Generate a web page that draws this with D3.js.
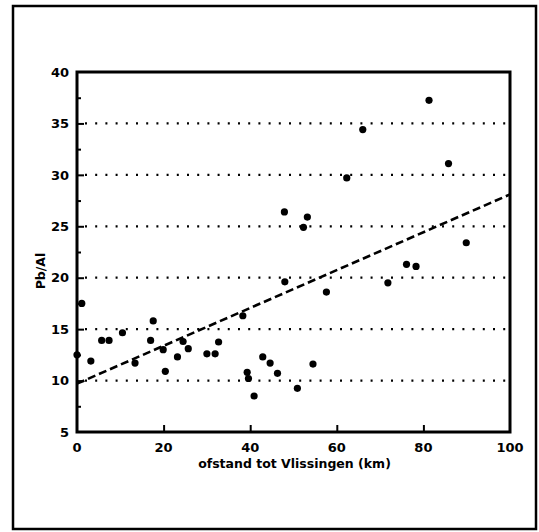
<!DOCTYPE html>
<html>
<head>
<meta charset="utf-8">
<script src="https://cdn.jsdelivr.net/npm/d3@7"></script>
<style>
  html, body { margin: 0; padding: 0; background: #fff; }
  svg { display: block; }
  text { font-family: "DejaVu Sans", sans-serif; font-weight: bold; fill: #000; }
</style>
</head>
<body>
<svg id="chart" width="539" height="532"></svg>
<script>
// Distance from Vlissingen (km) and Pb/Al ratio per sample
const distanceKm = [0, 1.1, 3.2, 5.7, 7.4, 10.5, 13.4, 17.0, 17.6, 19.9, 20.4, 23.2, 24.5, 25.7,
  30.0, 31.9, 32.7, 38.3, 39.3, 39.6, 40.9, 42.9, 44.6, 46.3, 47.9, 48.0, 50.9, 52.3, 53.2,
  54.5, 57.6, 62.3, 66.0, 71.8, 76.1, 78.3, 81.3, 85.8, 89.9];
const pbAl = [12.5, 17.5, 11.9, 13.9, 13.9, 14.65, 11.7, 13.9, 15.8, 13.0, 10.9, 12.3, 13.8, 13.1,
  12.6, 12.6, 13.75, 16.3, 10.8, 10.2, 8.5, 12.3, 11.7, 10.7, 26.4, 19.6, 9.25, 24.9, 25.9,
  11.6, 18.6, 29.7, 34.4, 19.5, 21.3, 21.1, 37.25, 31.1, 23.4];

// Fitted trend line endpoints
const trendX = [0, 100];
const trendY = [9.7, 28.1];

// Axis ticks
const xTicks = [0, 20, 40, 60, 80, 100];
const yTicks = [5, 10, 15, 20, 25, 30, 35, 40];
const yMinorTicks = [7.5, 12.5, 17.5, 22.5, 27.5, 32.5, 37.5];
const gridValues = [10, 15, 20, 25, 30, 35];

(function draw() {
  const svg = d3.select("#chart");

  // Outer frame
  svg.append("rect")
    .attr("x", 13).attr("y", 6).attr("width", 523).attr("height", 523)
    .attr("fill", "none").attr("stroke", "#000").attr("stroke-width", 2.5);

  const plotL = 77, plotR = 510, plotT = 72, plotB = 432;
  const x = d3.scaleLinear().domain([0, 100]).range([plotL, plotR]);
  const y = d3.scaleLinear().domain([5, 40]).range([plotB, plotT]);

  // Dotted horizontal grid
  svg.append("g").selectAll("line").data(gridValues).join("line")
    .attr("x1", plotL + 8).attr("x2", plotR - 2)
    .attr("y1", d => y(d)).attr("y2", d => y(d))
    .attr("stroke", "#000").attr("stroke-width", 2.2)
    .attr("stroke-dasharray", "2,8.2");

  // Inward major/minor ticks
  const yAxis = d3.axisRight(y).tickValues(yTicks.slice(1, -1)).tickSize(7).tickFormat("");
  svg.append("g").attr("transform", `translate(${plotL},0)`).call(yAxis)
    .call(g => g.select(".domain").remove())
    .selectAll("line").attr("stroke-width", 2);
  const yMinor = d3.axisRight(y).tickValues(yMinorTicks).tickSize(4).tickFormat("");
  svg.append("g").attr("transform", `translate(${plotL},0)`).call(yMinor)
    .call(g => g.select(".domain").remove())
    .selectAll("line").attr("stroke-width", 2);
  const xAxis = d3.axisTop(x).tickValues(xTicks.slice(1, -1)).tickSize(7).tickFormat("");
  svg.append("g").attr("transform", `translate(0,${plotB})`).call(xAxis)
    .call(g => g.select(".domain").remove())
    .selectAll("line").attr("stroke-width", 2);

  // Plot frame
  svg.append("rect")
    .attr("x", plotL).attr("y", plotT).attr("width", plotR - plotL).attr("height", plotB - plotT)
    .attr("fill", "none").attr("stroke", "#000").attr("stroke-width", 3);

  // Tick labels
  svg.append("g").selectAll("text").data(yTicks).join("text")
    .attr("x", plotL - 8).attr("y", d => y(d)).attr("dy", "0.36em")
    .attr("text-anchor", "end").attr("font-size", 13).text(d => d);
  svg.append("g").selectAll("text").data(xTicks).join("text")
    .attr("x", d => x(d)).attr("y", plotB + 15).attr("dy", "0.36em")
    .attr("text-anchor", "middle").attr("font-size", 13).text(d => d);

  // Axis titles
  svg.append("text")
    .attr("x", (plotL + plotR) / 2 + 1).attr("y", 463).attr("dy", "0.36em")
    .attr("text-anchor", "middle").attr("font-size", 12.5)
    .text("ofstand tot Vlissingen (km)");
  svg.append("text")
    .attr("transform", "translate(40,271) rotate(-90)")
    .attr("dy", "0.36em").attr("text-anchor", "middle").attr("font-size", 12.5)
    .text("Pb/Al");

  // Trend line
  const line = d3.line().x(d => x(d[0])).y(d => y(d[1]));
  svg.append("path")
    .datum(trendX.map((v, i) => [v, trendY[i]]))
    .attr("d", line)
    .attr("fill", "none").attr("stroke", "#000").attr("stroke-width", 2.6)
    .attr("stroke-dasharray", "8,4");

  // Sample points
  svg.append("g").selectAll("circle").data(distanceKm).join("circle")
    .attr("cx", d => x(d)).attr("cy", (d, i) => y(pbAl[i]))
    .attr("r", 3.6).attr("fill", "#000");
})();
</script>
</body>
</html>
